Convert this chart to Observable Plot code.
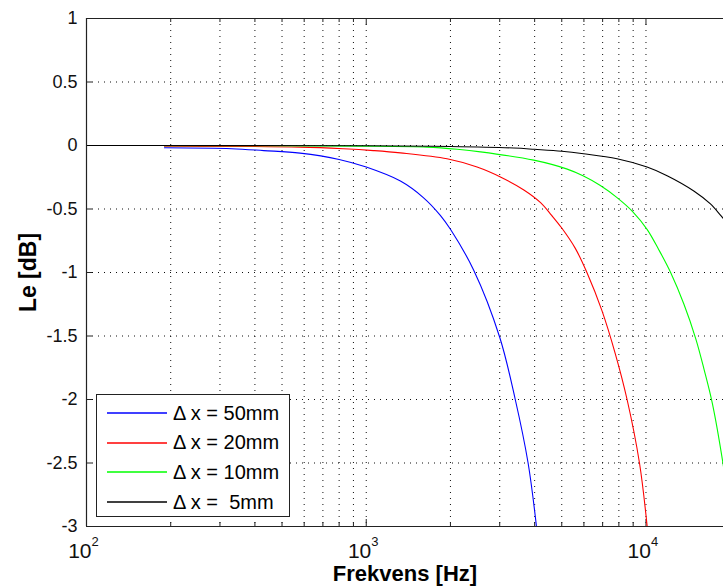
<!DOCTYPE html>
<html>
<head>
<meta charset="utf-8">
<script src="https://cdn.jsdelivr.net/npm/d3@7"></script>
<script src="https://cdn.jsdelivr.net/npm/@observablehq/plot@0.6"></script>
<style>
  html, body { margin: 0; padding: 0; background: #fff; }
  #wrap { position: relative; width: 723px; height: 588px; overflow: hidden; font-family: "Liberation Sans", Arial, Helvetica, sans-serif; }
  #legend { position: absolute; left: 96px; top: 394px; width: 194px; height: 123px; border: 1px solid #222; background: #fff; box-sizing: border-box; }
  .row { position: absolute; left: 0; height: 30px; display: flex; align-items: center; }
  .row svg { margin-left: 10px; }
  .row span { margin-left: 6px; font-size: 20px; white-space: pre; color: #000; }
</style>
</head>
<body>
<div id="wrap"></div>
<script>
// ---- data ----
const seriesNames = ["\u0394 x = 50mm", "\u0394 x = 20mm", "\u0394 x = 10mm", "\u0394 x =  5mm"];
const seriesColors = ["#0000ff", "#ff0000", "#00ff00", "#000000"];

const freq50 = [190, 330, 430, 580, 800, 1000, 1325, 1600, 1840, 2000, 2420, 3000, 3410, 3790, 4060];
const le50   = [-0.018, -0.025, -0.04, -0.06, -0.11, -0.17, -0.28, -0.41, -0.55, -0.66, -0.98, -1.51, -2.0, -2.5, -3.0];

const freq20 = [190, 580, 830, 1060, 1325, 1945, 2490, 3030, 3660, 4200, 4600, 5000, 5590, 6150, 6960, 7770, 8560, 9480, 10100];
const le20   = [-0.005, -0.013, -0.026, -0.04, -0.058, -0.105, -0.17, -0.25, -0.35, -0.45, -0.55, -0.65, -0.81, -1.0, -1.30, -1.64, -2.0, -2.5, -3.0];

const freq10 = [190, 955, 1650, 2115, 2560, 3970, 5200, 5980, 6870, 7880, 8960, 10090, 11110, 12250, 13670, 15060, 16120, 17270, 18840, 20270];
const le10   = [-0.001, -0.005, -0.013, -0.03, -0.05, -0.115, -0.184, -0.24, -0.315, -0.41, -0.52, -0.66, -0.82, -1.0, -1.25, -1.52, -1.76, -2.03, -2.5, -3.0];

const freq5 = [100, 1000, 2000, 3370, 4000, 5000, 5980, 7880, 10090, 11950, 14870, 17000, 18490, 20000];
const le5   = [0, -0.002, -0.008, -0.02, -0.03, -0.045, -0.065, -0.105, -0.17, -0.24, -0.36, -0.46, -0.55, -0.64];

const xDecades = [100, 1000, 10000];
const xBaseLabels = ["10", "10", "10"];
const xExpLabels = ["2", "3", "4"];
const xMinor = [200, 300, 400, 500, 600, 700, 800, 900, 2000, 3000, 4000, 5000, 6000, 7000, 8000, 9000];
const yTicks = [1, 0.5, 0, -0.5, -1, -1.5, -2, -2.5, -3];
const yTickLabels = ["1", "0.5", "0", "-0.5", "-1", "-1.5", "-2", "-2.5", "-3"];
const xTitle = "Frekvens [Hz]";
const yTitle = "Le [dB]";

// ---- build ----
const allSeries = [[freq50, le50], [freq20, le20], [freq10, le10], [freq5, le5]];
const rows = allSeries.map(([f, v], i) => f.map((fr, j) => ({f: fr, v: v[j], s: seriesNames[i]})));

const W = 723, H = 588, mL = 86, mR = 0, mT = 18, mB = 62;
const innerH = H - mT - mB, innerW = W - mL - mR;
const xMax = 18930;
const grid = {stroke: "#000", strokeWidth: 1, strokeDasharray: "1,5", strokeOpacity: 0.95};
const frameColor = "#222";

const chart = Plot.plot({
  width: W, height: H,
  marginLeft: mL, marginRight: mR, marginTop: mT, marginBottom: mB,
  style: {fontFamily: "'Liberation Sans', Arial, Helvetica, sans-serif", background: "#fff", overflow: "visible"},
  x: {type: "log", domain: [100, xMax], axis: null},
  y: {domain: [-3, 1], axis: null},
  marks: [
    // grid
    Plot.ruleX(xMinor.concat([1000, 10000]), {x: d => d, ...grid}),
    Plot.ruleY(yTicks.filter(d => d > -3 && d < 1), {y: d => d, ...grid}),
    // ticks (inward)
    Plot.ruleX(xDecades, {x: d => d, stroke: frameColor, insetTop: innerH - 7}),
    Plot.ruleX(xDecades, {x: d => d, stroke: frameColor, insetBottom: innerH - 7}),
    Plot.ruleX(xMinor, {x: d => d, stroke: frameColor, insetTop: innerH - 4}),
    Plot.ruleX(xMinor, {x: d => d, stroke: frameColor, insetBottom: innerH - 4}),
    Plot.ruleY(yTicks, {y: d => d, stroke: frameColor, insetRight: innerW - 6}),
    // data
    ...rows.map((r, i) => Plot.line(r, {x: "f", y: "v", stroke: seriesColors[i], strokeWidth: 1.1, curve: "catmull-rom", clip: true})),
    // frame (left, top, bottom)
    Plot.ruleX([100], {x: d => d, stroke: frameColor, strokeWidth: 1.2}),
    Plot.ruleY([1, -3], {y: d => d, stroke: frameColor, strokeWidth: 1.2}),
    // tick labels
    Plot.text(yTicks, {y: d => d, frameAnchor: "left", text: (d, i) => yTickLabels[i], textAnchor: "end", dx: -9, fontSize: 18, fill: "#111"}),
    Plot.text(xDecades, {x: d => d, frameAnchor: "bottom", text: (d, i) => xBaseLabels[i], textAnchor: "end", lineAnchor: "bottom", dx: 5, dy: 31, fontSize: 21, fill: "#111"}),
    Plot.text(xDecades, {x: d => d, frameAnchor: "bottom", text: (d, i) => xExpLabels[i], textAnchor: "start", lineAnchor: "bottom", dx: 5, dy: 19, fontSize: 13, fill: "#111"}),
    // titles
    Plot.text([xTitle], {frameAnchor: "bottom", text: d => d, textAnchor: "middle", lineAnchor: "middle", dy: 47, fontSize: 22, fontWeight: "bold", fill: "#000"}),
    Plot.text([yTitle], {frameAnchor: "left", text: d => d, textAnchor: "middle", rotate: -90, dx: -58, fontSize: 23, fontWeight: "bold", fill: "#000"})
  ]
});

const wrap = document.getElementById("wrap");
wrap.appendChild(chart);

// legend (HTML overlay)
const legend = document.createElement("div");
legend.id = "legend";
seriesNames.forEach((name, i) => {
  const row = document.createElement("div");
  row.className = "row";
  row.style.top = (3 + i * 29.7) + "px";
  row.innerHTML = `<svg width="60" height="4"><line x1="0" x2="60" y1="2" y2="2" stroke="${seriesColors[i]}" stroke-width="1.3"/></svg><span>${name}</span>`;
  legend.appendChild(row);
});
wrap.appendChild(legend);
</script>
</body>
</html>
